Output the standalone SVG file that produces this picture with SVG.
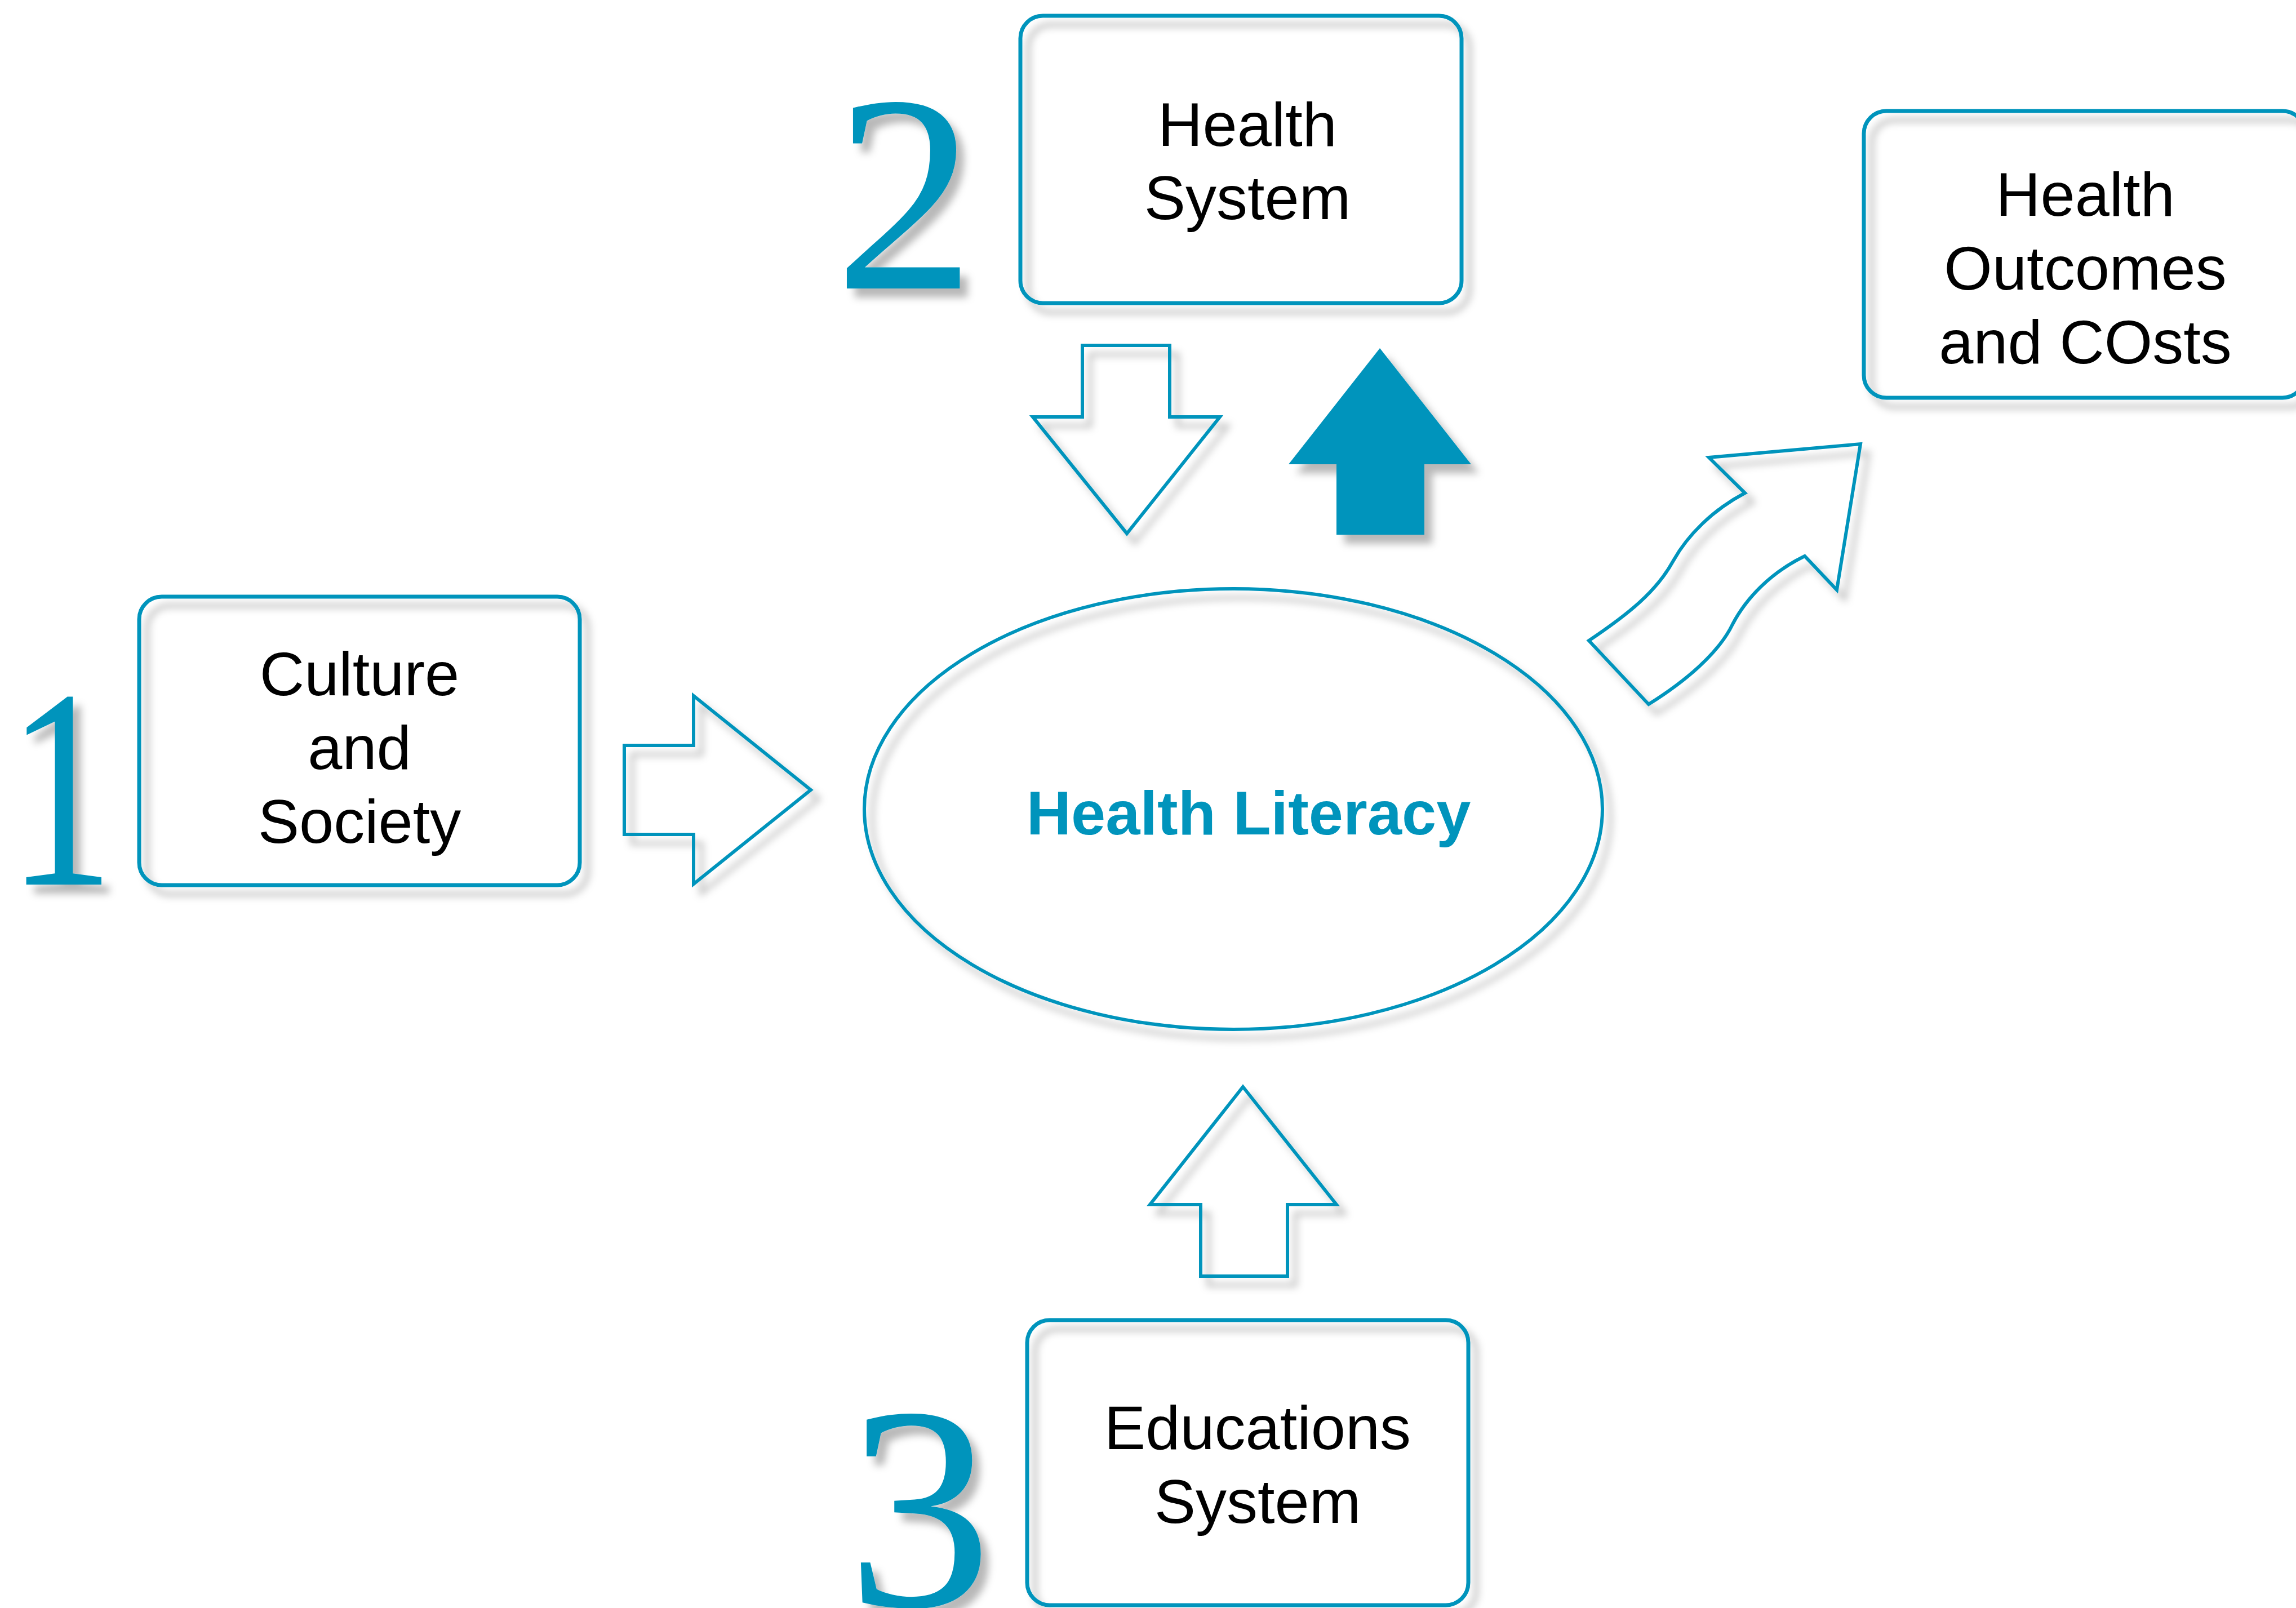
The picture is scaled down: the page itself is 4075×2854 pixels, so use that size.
<svg xmlns="http://www.w3.org/2000/svg" width="4075" height="2854" viewBox="0 0 4075 2854">
<defs>
<filter id="sh" x="-20%" y="-20%" width="140%" height="140%">
<feDropShadow dx="14" dy="16" stdDeviation="7" flood-color="#000" flood-opacity="0.28"/>
</filter>
</defs>
<style>
.box{fill:none;stroke:#0094BC;stroke-width:7}
.arr{fill:none;stroke:#0094BC;stroke-width:6;stroke-linejoin:miter}
.lbl{font-family:"Liberation Sans",Arial,sans-serif;font-size:110px;fill:#000;text-anchor:middle}
.num{font-family:"Liberation Serif","Times New Roman",serif;fill:#0094BC;text-anchor:middle}
.hl{font-family:"Liberation Sans",Arial,sans-serif;font-size:110px;font-weight:bold;fill:#0094BC;text-anchor:middle}
</style>
<rect width="4075" height="2854" fill="#fff"/>

<g id="num1" filter="url(#sh)"><text class="num" transform="translate(108,1570) scale(0.75,1)" x="0" y="0" font-size="505">1</text></g>
<g id="num2" filter="url(#sh)"><text class="num" x="1606" y="512" font-size="500">2</text></g>
<g id="num3" filter="url(#sh)"><text class="num" x="1632" y="2850" font-size="515">3</text></g>

<g id="culture">
<rect class="box" x="247" y="1059" width="782" height="512" rx="40" filter="url(#sh)"/>
<text class="lbl" x="638" y="1234">Culture</text>
<text class="lbl" x="638" y="1365">and</text>
<text class="lbl" x="638" y="1496">Society</text>
</g>

<g id="health-system">
<rect class="box" x="1811" y="28" width="783" height="510" rx="40" filter="url(#sh)"/>
<text class="lbl" x="2214" y="259">Health</text>
<text class="lbl" x="2214" y="389">System</text>
</g>

<g id="outcomes">
<rect class="box" x="3308" y="197" width="783" height="509" rx="40" filter="url(#sh)"/>
<text class="lbl" x="3701" y="383">Health</text>
<text class="lbl" x="3701" y="514">Outcomes</text>
<text class="lbl" x="3701" y="645">and COsts</text>
</g>

<g id="education">
<rect class="box" x="1823" y="2343" width="783" height="506" rx="40" filter="url(#sh)"/>
<text class="lbl" x="2232" y="2572">Educations</text>
<text class="lbl" x="2232" y="2703">System</text>
</g>

<g id="health-literacy">
<ellipse cx="2189" cy="1436" rx="655" ry="391" fill="none" stroke="#0094BC" stroke-width="6" filter="url(#sh)"/>
<text class="hl" x="2216" y="1481">Health Literacy</text>
</g>

<g id="connectors" filter="url(#sh)">
<polygon class="arr" points="1108,1323 1231,1323 1231,1235 1439,1402 1231,1569 1231,1481 1108,1481"/>
<polygon class="arr" points="1921,613 2076,613 2076,740 2165,740 2000,947 1833,740 1921,740"/>
<polygon fill="#0094BC" points="2449,618 2611,824 2528,824 2528,949 2372,949 2372,824 2287,824"/>
<polygon class="arr" points="2206,1929 2372,2138 2285,2138 2285,2265 2131,2265 2131,2138 2041,2138"/>
<path class="arr" d="M2820,1137 L2926,1250 C2990,1210 3050,1160 3075,1108 C3100,1060 3145,1015 3203,987 L3260,1047 L3302,788 L3033,812 L3097,875 C3040,905 2995,950 2970,995 C2940,1050 2890,1090 2820,1137 Z"/>
</g>
</svg>
